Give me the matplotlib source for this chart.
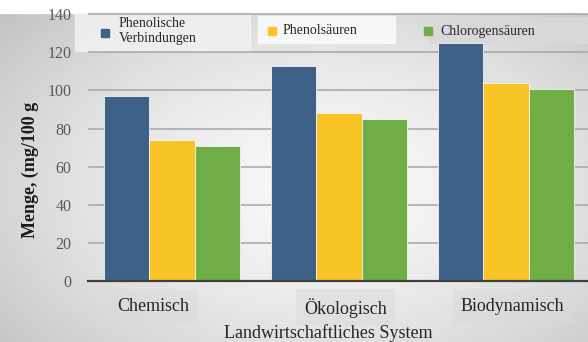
import matplotlib.pyplot as plt
import numpy as np
from matplotlib.patches import Rectangle

systems = ["Chemisch", "Ökologisch", "Biodynamisch"]
series_names = ["Phenolische\nVerbindungen", "Phenolsäuren", "Chlorogensäuren"]
phenolic = [97, 113, 125]
phenolic_acids = [74, 88, 104]
chlorogenic = [71, 85, 101]
y_ticks = [0, 20, 40, 60, 80, 100, 120, 140]

colors = ["#3d6187", "#f9c425", "#70ad47"]
serif = ["Liberation Serif", "DejaVu Serif"]

fig = plt.figure(figsize=(5.88, 3.42), dpi=100)

# soft grey backdrop, lighter towards the middle
bg = fig.add_axes([0, 0, 1, 1], zorder=0)
yy, xx = np.mgrid[0:1:200j, 0:1:300j]
dist = np.sqrt(((xx - 0.55) / 0.75) ** 2 + ((yy - 0.45) / 0.8) ** 2)
shade = np.clip(0.97 - 0.22 * dist ** 1.6, 0.74, 0.97)
bg.imshow(shade, cmap="gray", vmin=0, vmax=1, extent=[0, 1, 0, 1],
          aspect="auto", origin="lower")
bg.add_patch(Rectangle((0, 1 - 13 / 342), 1, 13 / 342, color="white"))
bg.set_xlim(0, 1)
bg.set_ylim(0, 1)
bg.axis("off")

ax = fig.add_axes([88 / 588, 61 / 342, 1 - 88 / 588, 1 - 61 / 342], zorder=1)
ax.patch.set_alpha(0)

x = np.arange(len(systems))
width = 0.272
for i, (vals, c) in enumerate(zip([phenolic, phenolic_acids, chlorogenic], colors)):
    ax.bar(x + (i - 1) * width, vals, width, color=c, edgecolor="#f4f4f4",
           linewidth=0.6, zorder=3)

ax.set_xlim(-0.503, 2.49)
ax.set_ylim(0, 147.5)
ax.set_yticks(y_ticks)
ax.set_yticklabels([str(v) for v in y_ticks], family=serif, fontsize=11.5,
                   color="#595959")
ax.yaxis.grid(True, color="#a6a6a6", linewidth=1.1, zorder=0)
ax.tick_params(axis="y", length=0, pad=12)
# category labels sit a little off the group centres
ax.set_xticks(x + np.array([-0.11, 0.04, 0.04]))
ax.set_xticklabels(systems, family=serif, fontsize=13, color="#262626")
ax.tick_params(axis="x", length=0, pad=12)
for lbl in ax.get_xticklabels():
    lbl.set_bbox(dict(facecolor="#d9d9d9", alpha=0.45, edgecolor="none", pad=6))
for side in ["top", "right", "left"]:
    ax.spines[side].set_visible(False)
ax.spines["bottom"].set_color("#404040")
ax.spines["bottom"].set_linewidth(1.6)
ax.spines["bottom"].set_zorder(4)

fig.text(30 / 588, 1 - 170 / 342, "Menge, (mg/100 g", rotation=90, ha="center",
         va="center", family=serif, fontsize=13, fontweight="bold", color="#1a1a1a")
fig.text(328 / 588, 1 - 333 / 342, "Landwirtschaftliches System", ha="center",
         va="center", family=serif, fontsize=13, color="#262626")

# legend row across the top
legend_boxes = [(75, 13, 175, 38, "#f2f2f2"), (258, 16, 137, 27, "#fbfbfb"),
                (430, 17, 158, 26, "#d9d9d9")]
for bx, by, bw, bh, bc in legend_boxes:
    bg.add_patch(Rectangle((bx / 588, 1 - (by + bh) / 342), bw / 588, bh / 342,
                           color=bc, alpha=0.85, zorder=2))
marker_pos = [(105, 33), (272, 31), (428, 31)]
text_pos = [(119, 31), (283, 31), (440, 31)]
for (mx, my), (tx, ty), name, c in zip(marker_pos, text_pos, series_names, colors):
    bg.add_patch(Rectangle(((mx - 4) / 588, 1 - (my + 4) / 342), 8 / 588, 8 / 342,
                           color=c, zorder=3))
    fig.text(tx / 588, 1 - ty / 342, name, ha="left", va="center", family=serif,
             fontsize=10, color="#262626", linespacing=1.15, zorder=4)

fig.savefig("out.png", dpi=100)
